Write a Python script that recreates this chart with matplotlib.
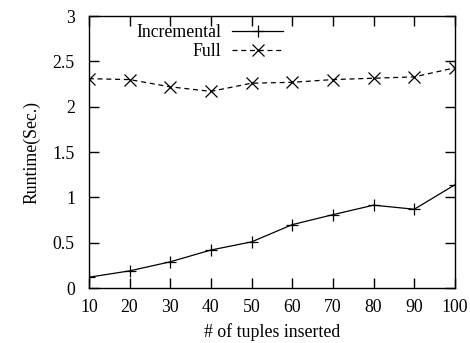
import matplotlib
matplotlib.use("Agg")
import matplotlib.pyplot as plt

tuples_inserted = [10, 20, 30, 40, 50, 60, 70, 80, 90, 100]
incremental = [0.12, 0.19, 0.29, 0.42, 0.51, 0.70, 0.81, 0.915, 0.87, 1.14]
full = [2.31, 2.30, 2.22, 2.17, 2.26, 2.27, 2.30, 2.315, 2.33, 2.43]
y_ticks = [0, 0.5, 1, 1.5, 2, 2.5, 3]
y_tick_labels = ["0", "0.5", "1", "1.5", "2", "2.5", "3"]

plt.rcParams["font.family"] = ["Liberation Serif", "DejaVu Serif"]
FS = 12.8

fig = plt.figure(figsize=(4.7, 3.43), dpi=100)
ax = fig.add_axes([0.189, 0.160, 0.779, 0.793])

ax.plot(tuples_inserted, incremental, color="black", lw=0.9, marker="+",
        markersize=8, markeredgewidth=0.9, label="Incremental")
ax.plot(tuples_inserted, full, color="black", lw=0.9, ls=(0, (4, 3)),
        marker="x", markersize=8, markeredgewidth=0.9, label="Full")

ax.set_xlim(10, 100)
ax.set_ylim(0, 3)
ax.set_xticks(tuples_inserted)
ax.set_yticks(y_ticks)
ax.set_yticklabels(y_tick_labels)
ax.tick_params(direction="in", length=7, width=1, top=True, right=True,
               labelsize=FS)
ax.tick_params(axis="x", pad=8)
ax.tick_params(axis="y", pad=10)
for sp in ax.spines.values():
    sp.set_linewidth(1)

ax.set_xlabel("# of tuples inserted", fontsize=FS, labelpad=5)
ax.set_ylabel("Runtime(Sec.)", fontsize=FS, labelpad=9)

ax.legend(loc="upper left", bbox_to_anchor=(0.10, 1.01), frameon=False,
          markerfirst=False, handlelength=2.9, handletextpad=0.6,
          labelspacing=0.1, fontsize=FS, borderaxespad=0.2)

fig.savefig("out.png", dpi=100)
